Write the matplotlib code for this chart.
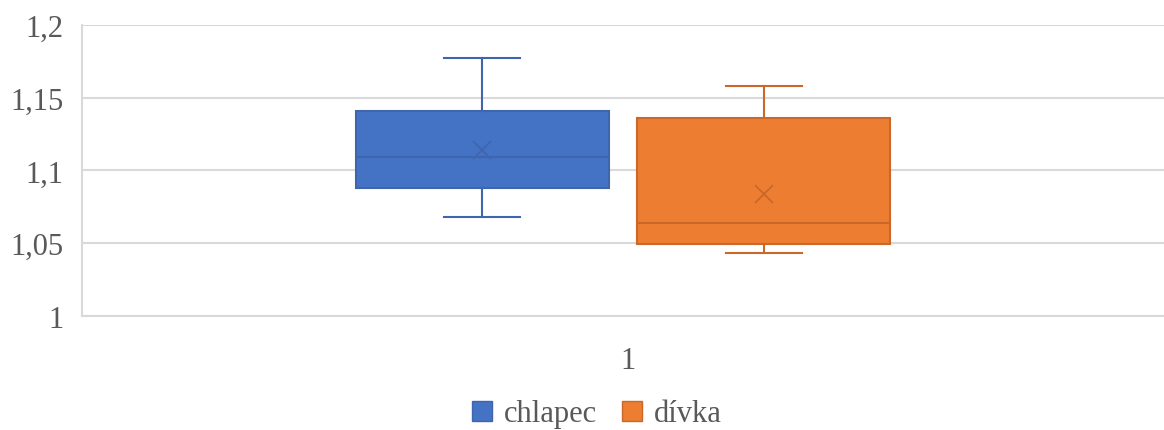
import matplotlib
matplotlib.use("Agg")
import matplotlib.pyplot as plt
from matplotlib.patches import Patch

# Box plot summary statistics per group
groups = ["chlapec", "dívka"]
whisker_low = [1.068, 1.043]
q1 = [1.088, 1.049]
median = [1.109, 1.064]
q3 = [1.141, 1.136]
whisker_high = [1.177, 1.158]
mean = [1.114, 1.084]

category_labels = ["1"]
y_ticks = [1.0, 1.05, 1.1, 1.15, 1.2]
y_tick_labels = ["1", "1,05", "1,1", "1,15", "1,2"]

fills = ["#4472C4", "#ED7D31"]
edges = ["#3F65AD", "#C9682A"]

plt.rcParams["font.family"] = ["Liberation Serif", "DejaVu Serif"]

W, H = 1164, 431
fig = plt.figure(figsize=(W / 100, H / 100), dpi=100)
ax = fig.add_axes([82 / W, (H - 316.7) / H, (1164 - 82) / W, (316.7 - 26) / H])

positions = [0.5 - 0.13, 0.5 + 0.13]
box_width = 0.234

for i, g in enumerate(groups):
    stats = [dict(med=median[i], q1=q1[i], q3=q3[i], whislo=whisker_low[i],
                  whishi=whisker_high[i], mean=mean[i], label=g)]
    ax.bxp(stats, positions=[positions[i]], widths=box_width, patch_artist=True,
           showmeans=True, showfliers=False, manage_ticks=False,
           boxprops=dict(facecolor=fills[i], edgecolor=edges[i], linewidth=1.5),
           medianprops=dict(color=edges[i], linewidth=1.5),
           whiskerprops=dict(color=edges[i], linewidth=1.5),
           capprops=dict(color=edges[i], linewidth=1.5),
           capwidths=0.07,
           meanprops=dict(marker="x", markeredgecolor=edges[i], markersize=13,
                          markeredgewidth=1.3),
           zorder=3)

ax.set_xlim(0, 1)
ax.set_ylim(1.0, 1.2)
ax.set_yticks(y_ticks)
ax.set_yticklabels(y_tick_labels)
ax.set_xticks([0.505])
ax.set_xticklabels(category_labels)
ax.tick_params(axis="both", length=0, labelsize=22, labelcolor="#595959")
ax.tick_params(axis="y", pad=13.5)
ax.tick_params(axis="x", pad=22)

ax.grid(axis="y", color="#D9D9D9", linewidth=1.5, zorder=0)
ax.set_axisbelow(True)
for side in ["top", "right"]:
    ax.spines[side].set_visible(False)
for side in ["left", "bottom"]:
    ax.spines[side].set_color("#D9D9D9")
    ax.spines[side].set_linewidth(1.5)

handles = [Patch(facecolor=fills[i], edgecolor=edges[i], label=groups[i]) for i in range(2)]
fig.legend(handles=handles, loc="center", bbox_to_anchor=(597 / W, (H - 415) / H),
           ncol=2, frameon=False, fontsize=22, labelcolor="#595959",
           handlelength=0.65, handleheight=0.65, handletextpad=0.4, columnspacing=0.8,
           borderpad=0.0)

fig.savefig("out.png", dpi=100)
